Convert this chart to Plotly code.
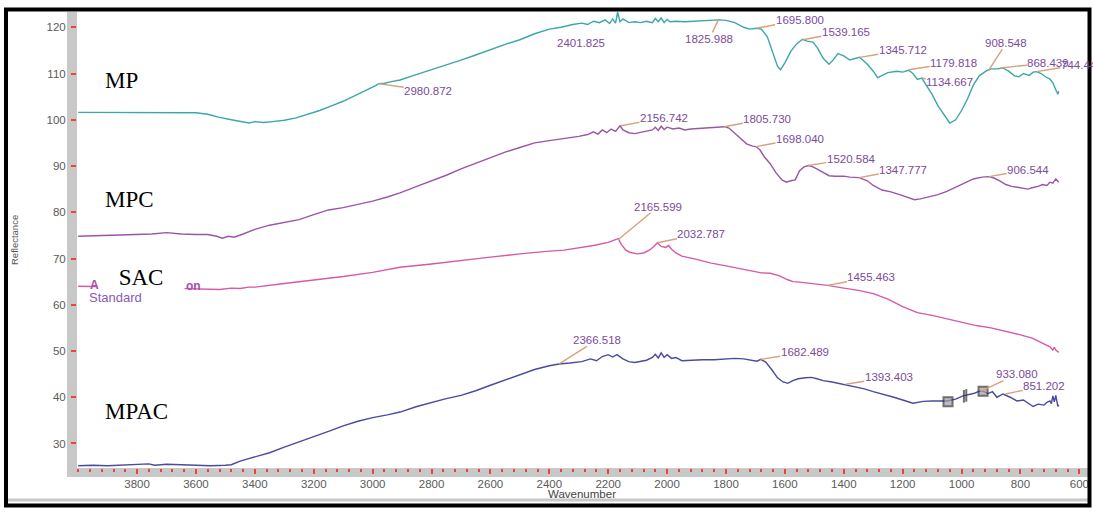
import plotly.graph_objects as go

# ---------------- data ----------------
mp_wn = [4000, 3900, 3800, 3700, 3600, 3560, 3520, 3480, 3440, 3420, 3400, 3370, 3340, 3300, 3260, 3220,
         3180, 3140, 3100, 3060, 3020, 2990, 2980, 2960, 2940, 2907, 2860, 2800, 2750, 2700, 2650, 2600,
         2550, 2500, 2450, 2400, 2360, 2320, 2290, 2270, 2250, 2230, 2210, 2195, 2185, 2175, 2168, 2160,
         2150, 2130, 2110, 2090, 2070, 2050, 2040, 2030, 2020, 2010, 2000, 1990, 1970, 1940, 1900, 1860,
         1826, 1800, 1770, 1740, 1720, 1696, 1680, 1660, 1640, 1625, 1615, 1600, 1580, 1560, 1540, 1525,
         1505, 1490, 1470, 1450, 1435, 1420, 1400, 1380, 1365, 1346, 1320, 1300, 1285, 1270, 1250, 1220,
         1200, 1180, 1165, 1150, 1135, 1120, 1100, 1080, 1060, 1040, 1020, 1000, 980, 960, 940, 915,
         900, 880, 860, 840, 820, 805, 790, 770, 757, 745, 730, 715, 700, 690, 680, 673, 670]
mp_val = [101.6, 101.6, 101.5, 101.6, 101.5, 101.2, 100.5, 100.0, 99.6, 99.3, 99.6, 99.4, 99.6, 99.9, 100.4, 101.2,
          102.0, 103.0, 104.0, 105.2, 106.4, 107.4, 107.8, 107.9, 108.2, 108.6, 109.6, 110.8, 111.9, 112.9, 114.0, 115.2,
          116.3, 117.3, 118.6, 119.6, 120.0, 120.6, 120.9, 120.6, 121.3, 121.0, 121.6, 120.8, 121.8, 120.9, 123.3, 121.2,
          121.8, 121.0, 121.2, 121.0, 121.3, 121.0, 121.9, 121.2, 122.0, 121.0, 121.7, 121.2, 121.3, 121.2, 121.3, 121.5,
          121.6, 121.5, 121.0, 120.0, 119.6, 119.8, 119.6, 118.0, 114.5, 111.6, 110.8, 112.3, 114.8, 116.4, 117.4, 117.0,
          116.8, 115.6, 113.3, 112.0, 113.0, 114.3, 113.8, 112.9, 113.2, 113.5, 112.0, 110.5, 109.1, 109.6, 110.2, 110.5,
          110.3, 110.7, 110.0, 108.7, 109.0, 107.5, 105.5, 103.0, 101.0, 99.3, 100.0, 102.0, 104.5, 107.5, 109.5, 110.6,
          111.0, 111.0, 111.2, 110.5, 109.5, 109.3, 110.0, 109.6, 110.3, 110.4, 110.0, 109.3, 108.8, 108.0, 106.5, 105.5, 106.2]

mpc_wn = [4000, 3950, 3900, 3850, 3800, 3750, 3700, 3650, 3600, 3560, 3530, 3510, 3490, 3470, 3440, 3400,
          3350, 3300, 3250, 3200, 3150, 3100, 3050, 3000, 2950, 2907, 2850, 2800, 2750, 2700, 2650, 2600,
          2550, 2500, 2450, 2400, 2350, 2300, 2270, 2250, 2235, 2220, 2205, 2190, 2175, 2160, 2150, 2130,
          2110, 2090, 2070, 2050, 2040, 2030, 2020, 2010, 2000, 1980, 1960, 1940, 1920, 1880, 1850, 1820,
          1806, 1790, 1770, 1750, 1730, 1710, 1698, 1685, 1670, 1650, 1630, 1610, 1595, 1580, 1565, 1550,
          1535, 1520, 1505, 1490, 1470, 1450, 1430, 1400, 1380, 1348, 1320, 1300, 1270, 1240, 1210, 1180,
          1160, 1140, 1110, 1080, 1050, 1020, 990, 960, 930, 906, 890, 870, 850, 830, 810, 790,
          775, 760, 740, 725, 710, 700, 690, 680, 673, 670]
mpc_val = [74.8, 74.9, 75.0, 75.0, 75.2, 75.3, 75.6, 75.3, 75.2, 75.2, 74.8, 74.4, 74.8, 74.6, 75.3, 76.3,
           77.2, 77.8, 78.4, 79.5, 80.5, 81.0, 81.7, 82.4, 83.3, 84.2, 85.6, 86.8, 88.0, 89.4, 90.6, 91.9,
           93.0, 94.0, 95.0, 95.5, 95.9, 96.4, 96.8, 97.4, 96.9, 97.8, 97.2, 98.0, 97.5, 98.7, 97.8, 97.2,
           97.0, 97.3, 97.6, 97.8, 98.4, 97.7, 98.6, 97.9, 98.4, 98.0, 98.2, 97.8, 98.0, 98.2, 98.3, 98.4,
           98.5, 98.2, 97.0, 95.8, 94.8, 94.3, 94.2, 93.5, 92.0, 90.5, 88.5, 87.0, 86.5, 86.8, 87.0, 89.0,
           89.8, 90.1, 89.8, 89.3, 88.6, 87.9, 87.8, 87.8, 87.6, 87.5, 86.8, 85.8, 84.8, 84.4, 83.8, 83.2,
           82.7, 82.9, 83.3, 83.8, 84.5, 85.4, 86.4, 87.2, 87.6, 87.7, 87.4, 86.8, 86.0, 85.6, 85.4, 85.2,
           85.0, 85.3, 85.6, 86.0, 85.8, 86.5, 86.3, 87.2, 86.8, 86.5]

sac_wn = [4000, 3950, 3900, 3850, 3800, 3700, 3600, 3520, 3480, 3450, 3420, 3400, 3300, 3200, 3100, 3000,
          2907, 2800, 2700, 2600, 2500, 2455, 2400, 2350, 2300, 2250, 2200, 2180, 2166, 2155, 2140, 2125,
          2100, 2080, 2060, 2045, 2033, 2020, 2005, 1995, 1985, 1970, 1950, 1900, 1850, 1800, 1776, 1720,
          1680, 1650, 1620, 1590, 1573, 1550, 1500, 1455, 1400, 1350, 1300, 1250, 1200, 1150, 1100, 1050,
          1000, 950, 900, 850, 800, 760, 730, 710, 700, 690, 685, 680, 673, 670]
sac_val = [64.0, 64.0, 63.9, 63.8, 63.8, 63.6, 63.5, 63.3, 63.6, 63.5, 63.8, 63.8, 64.6, 65.3, 66.1, 67.0,
           68.1, 68.8, 69.6, 70.3, 71.0, 71.3, 71.6, 71.8, 72.3, 72.8, 73.5, 73.9, 74.3, 73.0, 71.8, 71.3,
           71.0, 71.2, 71.8, 72.6, 73.4, 72.6, 72.4, 72.8, 72.0, 71.2, 70.5, 69.8, 69.0, 68.4, 68.1, 67.3,
           66.9, 66.8, 66.3, 65.4, 65.0, 64.9, 64.6, 64.2, 63.6, 63.1, 62.4, 61.2, 59.6, 58.3, 57.7, 57.0,
           56.2, 55.5, 55.0, 54.3, 53.5, 52.8, 51.9, 51.2, 50.9, 50.2, 50.8, 50.2, 49.9, 49.7]

mpac_wn = [4000, 3950, 3900, 3850, 3800, 3760, 3740, 3700, 3650, 3600, 3550, 3500, 3480, 3450, 3400, 3350,
           3300, 3250, 3200, 3150, 3100, 3050, 3000, 2950, 2907, 2850, 2800, 2750, 2700, 2650, 2600, 2550,
           2500, 2450, 2400, 2367, 2330, 2290, 2260, 2240, 2220, 2200, 2185, 2170, 2150, 2130, 2110, 2090,
           2070, 2050, 2040, 2030, 2020, 2010, 2000, 1985, 1970, 1950, 1920, 1880, 1840, 1800, 1770, 1740,
           1710, 1695, 1682, 1665, 1645, 1625, 1606, 1590, 1573, 1555, 1530, 1510, 1491, 1470, 1440, 1403,
           1370, 1330, 1300, 1267, 1230, 1200, 1165, 1130, 1100, 1050, 1020, 995, 960, 940, 927, 910,
           895, 880, 859, 835, 812, 790, 775, 757, 740, 720, 710, 700, 695, 690, 685, 680, 673, 670]
mpac_val = [25.2, 25.3, 25.2, 25.3, 25.4, 25.6, 25.3, 25.5, 25.4, 25.3, 25.2, 25.3, 25.4, 26.2, 27.1, 28.0,
            29.2, 30.4, 31.5, 32.6, 33.8, 34.8, 35.6, 36.2, 36.8, 38.0, 38.9, 39.7, 40.4, 41.4, 42.6, 43.7,
            44.9, 46.0, 46.8, 47.2, 47.4, 47.7, 48.3, 47.9, 48.8, 49.2, 48.7, 49.2, 48.3, 47.7, 47.5, 47.7,
            48.0, 48.6, 49.3, 48.5, 49.6, 48.6, 49.2, 48.4, 48.6, 47.9, 48.0, 48.1, 48.1, 48.3, 48.4, 48.3,
            48.0, 47.8, 48.2, 47.6, 46.0, 44.2, 43.3, 43.0, 43.6, 44.0, 44.2, 44.3, 44.0, 43.6, 43.3, 42.8,
            42.4, 41.8, 41.2, 40.7, 40.0, 39.4, 38.7, 39.1, 39.2, 39.2, 39.6, 40.3, 40.8, 41.3, 41.3, 40.8,
            41.2, 40.0, 40.7, 40.0, 39.2, 39.4, 38.8, 38.0, 38.5, 38.3, 38.9, 39.2, 38.6, 40.3, 39.0, 40.4, 38.0, 38.4]

# cursor markers sitting on the MPAC trace
cursor_wn = [1046, 992, 984, 927]
cursor_val = [39.0, 40.2, 40.4, 41.3]

# peak labels (text) and the value of the trace where each leader starts
mp_peaks = ["2980.872", "2401.825", "1825.988", "1695.800", "1539.165", "1345.712",
            "1179.818", "1134.667", "908.548", "868.439", "744.44"]
mp_peak_vals = [107.8, 119.6, 121.6, 119.8, 117.3, 113.5, 110.8, 109.0, 110.6, 111.2, 110.4]
mpc_peaks = ["2156.742", "1805.730", "1698.040", "1520.584", "1347.777", "906.544"]
mpc_peak_vals = [98.7, 98.5, 94.2, 90.1, 87.5, 87.7]
sac_peaks = ["2165.599", "2032.787", "1455.463"]
sac_peak_vals = [74.1, 73.4, 64.2]
mpac_peaks = ["2366.518", "1682.489", "1393.403", "933.080", "851.202"]
mpac_peak_vals = [47.2, 48.2, 42.8, 41.3, 40.7]

x_ticks = [3800, 3600, 3400, 3200, 3000, 2800, 2600, 2400, 2200, 2000, 1800, 1600, 1400, 1200, 1000, 800, 600]
y_ticks = [30, 40, 50, 60, 70, 80, 90, 100, 110, 120]

# ---------------- layout helpers (pixel -> paper) ----------------
W, H = 1093, 516
ML, MR, MT, MB = 77, 6, 12, 48
PW = W - ML - MR
PH = H - MT - MB


def px(xp):
    return (xp - ML) / PW


def py(yp):
    return (H - MB - yp) / PH


# label offsets in pixels (style, not data)
mp_off = [(50, 7), (32, 14), (-9, 19), (43, -8), (43, -8), (43, -7), (45, -7), (28, 4), (18, -28), (48, -5), (42, -7)]
mpc_off = [(43, -8), (43, -8), (44, -8), (43, -7), (44, -8), (39, -7)]
sac_off = [(40, -33), (44, -9), (44, -8)]
mpac_off = [(38, -24), (44, -7), (43, -7), (36, -17), (39, -8)]

C_MP = "#3aa7a8"
C_MPC = "#9b55a6"
C_SAC = "#d65aa4"
C_MPAC = "#4a4a9e"
LABEL_C = "#7a4b9c"
LEADER_C = "#d6a27c"
RED = "#e8453c"
BAND = "#c8c8c8"

fig = go.Figure()
for name, wn, val, col in [("MP", mp_wn, mp_val, C_MP), ("MPC", mpc_wn, mpc_val, C_MPC),
                           ("SAC", sac_wn, sac_val, C_SAC), ("MPAC", mpac_wn, mpac_val, C_MPAC)]:
    fig.add_trace(go.Scatter(x=wn, y=val, mode="lines", name=name, showlegend=False,
                             line=dict(color=col, width=1.4)))

fig.add_trace(go.Scatter(x=cursor_wn, y=cursor_val, mode="markers", showlegend=False, hoverinfo="skip",
                         marker=dict(symbol=["square", "line-ns", "line-ns", "square"], size=[9, 9, 9, 9],
                                     color="#a0a0a0", line=dict(color="#333333", width=2))))

annotations = []
# white box behind the SAC label (covers part of the legend text as in the original)
annotations.append(dict(xref="paper", yref="paper", x=px(141), y=py(277), text="SAC", showarrow=False,
                        font=dict(family="Liberation Serif", size=23, color="black"),
                        bgcolor="white", width=84, height=28, xanchor="center", yanchor="middle"))
annotations.append(dict(xref="paper", yref="paper", x=px(88), y=py(285), text="<b>A</b>", showarrow=False,
                        font=dict(family="Liberation Sans", size=12, color="#a64fb0"), xanchor="left", yanchor="middle"))
annotations.append(dict(xref="paper", yref="paper", x=px(184), y=py(286), text="<b>on</b>", showarrow=False,
                        font=dict(family="Liberation Sans", size=12, color="#a64fb0"), xanchor="left", yanchor="middle"))
annotations.append(dict(xref="paper", yref="paper", x=px(87), y=py(297), text="Standard", showarrow=False,
                        font=dict(family="Liberation Sans", size=13, color="#8a5ab4"), xanchor="left", yanchor="middle"))

for lab, yp in [("MP", 80), ("MPC", 200), ("MPAC", 411)]:
    annotations.append(dict(xref="paper", yref="paper", x=px(103), y=py(yp), text=lab, showarrow=False,
                            font=dict(family="Liberation Serif", size=23, color="black"),
                            xanchor="left", yanchor="middle"))

for peaks, vals, offs in [(mp_peaks, mp_peak_vals, mp_off), (mpc_peaks, mpc_peak_vals, mpc_off),
                          (sac_peaks, sac_peak_vals, sac_off), (mpac_peaks, mpac_peak_vals, mpac_off)]:
    for lab, v, (ax, ay) in zip(peaks, vals, offs):
        annotations.append(dict(x=float(lab), y=v, xref="x", yref="y", text=lab, showarrow=True,
                                arrowhead=0, arrowwidth=1.4, arrowcolor=LEADER_C, ax=ax, ay=ay,
                                standoff=0, borderpad=0,
                                font=dict(family="Liberation Sans", size=11.5, color=LABEL_C)))

annotations.append(dict(xref="paper", yref="paper", x=0.5, y=py(494), text="Wavenumber", showarrow=False,
                        font=dict(family="Liberation Sans", size=11.5, color="#444444"),
                        xanchor="center", yanchor="middle"))
annotations.append(dict(xref="paper", yref="paper", x=px(14), y=0.5, text="Reflectance", showarrow=False,
                        textangle=-90, font=dict(family="Liberation Sans", size=9.5, color="#555555"),
                        xanchor="center", yanchor="middle"))

shapes = [
    # grey axis bands
    dict(type="rect", xref="paper", yref="paper", x0=px(67), x1=px(77), y0=py(477), y1=1,
         fillcolor=BAND, line=dict(width=0), layer="below"),
    dict(type="rect", xref="paper", yref="paper", x0=px(67), x1=px(1090), y0=py(477), y1=py(468),
         fillcolor=BAND, line=dict(width=0), layer="below"),
    # outer frame
    dict(type="line", xref="paper", yref="paper", x0=px(8), x1=px(1088), y0=py(500), y1=py(500),
         line=dict(color="#c8c8c8", width=3)),
    dict(type="rect", xref="paper", yref="paper", x0=px(6), x1=px(1089.5), y0=py(505.5), y1=py(9.5),
         line=dict(color="black", width=4)),
]

fig.update_layout(
    width=W, height=H, margin=dict(l=ML, r=MR, t=MT, b=MB, autoexpand=False),
    paper_bgcolor="white", plot_bgcolor="white",
    annotations=annotations, shapes=shapes,
    xaxis=dict(range=[4004, 574], tickmode="array", tickvals=x_ticks, ticks="outside", ticklen=5,
               tickwidth=2, tickcolor=RED, showgrid=False, zeroline=False, showline=False,
               tickfont=dict(family="Liberation Sans", size=11.5, color="#5a5a5a"),
               minor=dict(tick0=0, dtick=40, ticks="outside", ticklen=3, tickwidth=2, tickcolor=RED),
               automargin=False),
    yaxis=dict(range=[24.7, 123.3], tickmode="array", tickvals=y_ticks, ticks="outside", ticklen=5,
               tickwidth=2, tickcolor=RED, showgrid=False, zeroline=False, showline=False,
               tickfont=dict(family="Liberation Sans", size=11.5, color="#5a5a5a"),
               ticklabelstandoff=3, automargin=False),
)

fig.write_html("out.html")
